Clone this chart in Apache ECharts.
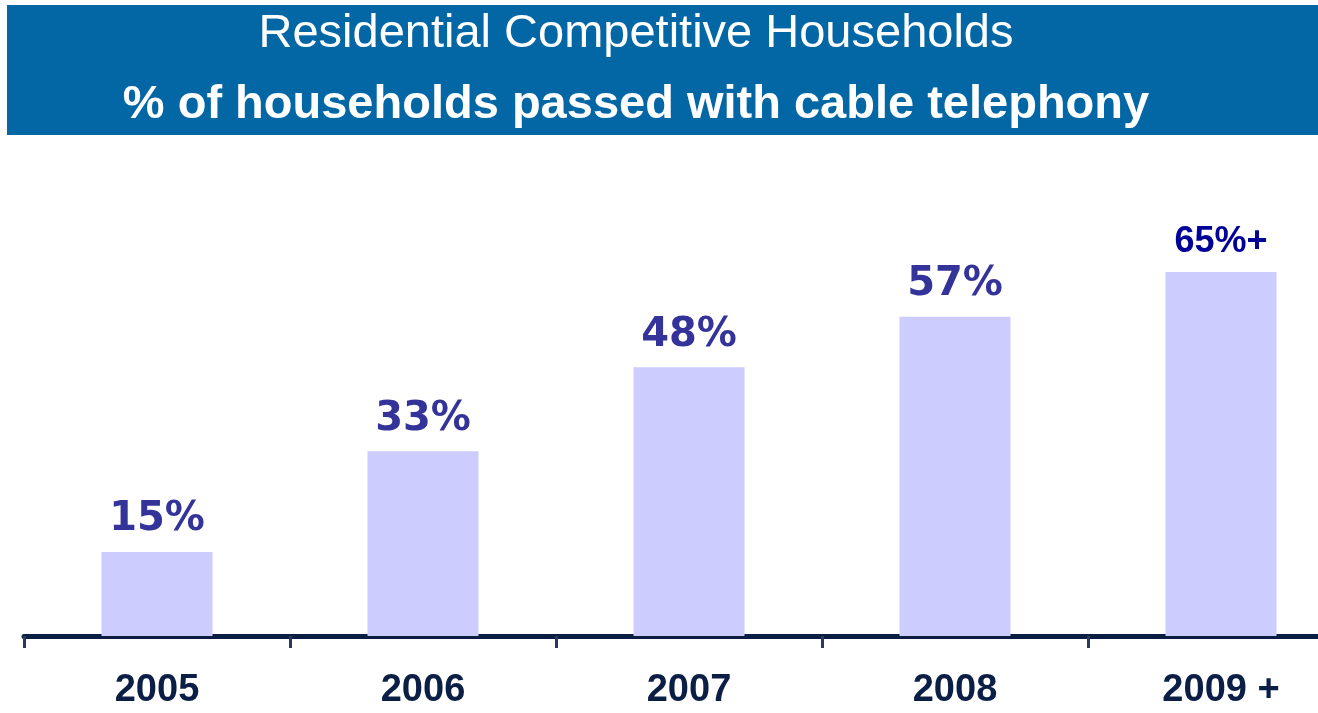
<!DOCTYPE html>
<html>
<head>
<meta charset="utf-8">
<title>Residential Competitive Households</title>
<script src="https://cdn.jsdelivr.net/npm/echarts@6/dist/echarts.min.js"></script>
<style>
  html, body { margin: 0; padding: 0; background: #ffffff; }
  #chart { width: 1318px; height: 713px; }
</style>
</head>
<body>
<div id="chart"></div>
<script>
// Share of households passed with cable telephony, by year
const categories = ['2005', '2006', '2007', '2008', '2009 +'];
const values = [15, 33, 48, 57, 65];
const labelSuffix = ['%', '%', '%', '%', '%+'];

const titleLine1 = 'Residential Competitive Households';
const titleLine2 = '% of households passed with cable telephony';

const chart = echarts.init(document.getElementById('chart'));

const pctLabel = {
  fontFamily: '"DejaVu Sans", Verdana, sans-serif',
  fontWeight: 'bold',
  fontSize: 40,
  color: '#333399'
};
const lastLabel = {
  fontFamily: '"Liberation Sans", Arial, sans-serif',
  fontWeight: 'bold',
  fontSize: 36,
  color: '#000099'
};

const seriesData = values.map((v, i) => ({
  value: v,
  label: Object.assign({}, i === values.length - 1 ? lastLabel : pctLabel, {
    formatter: () => v + labelSuffix[i]
  })
}));

chart.setOption({
  animation: false,
  graphic: [
    {
      type: 'rect',
      shape: { x: 7, y: 5, width: 1311, height: 130 },
      style: { fill: '#0467A5' },
      silent: true
    },
    {
      type: 'text',
      x: 636, y: 34,
      style: {
        text: titleLine1,
        fill: '#ffffff',
        font: '47px "Liberation Sans", Arial, sans-serif',
        textAlign: 'center',
        textVerticalAlign: 'middle'
      }
    },
    {
      type: 'text',
      x: 636, y: 105,
      style: {
        text: titleLine2,
        fill: '#ffffff',
        font: 'bold 47px "Liberation Sans", Arial, sans-serif',
        textAlign: 'center',
        textVerticalAlign: 'middle'
      }
    }
  ],
  // The last category runs past the right edge of the canvas
  grid: {
    left: 24,
    width: 1330,
    top: 188,
    bottom: 77,
    containLabel: false,
    outerBoundsMode: 'none'
  },
  xAxis: {
    type: 'category',
    data: categories,
    boundaryGap: true,
    axisLine: { lineStyle: { color: '#0A1E44', width: 5 } },
    axisTick: { show: true, length: 12, lineStyle: { color: '#2A3A5C', width: 3 } },
    axisLabel: {
      margin: 36,
      color: '#0B1E45',
      fontFamily: '"Liberation Sans", Arial, sans-serif',
      fontWeight: 'bold',
      fontSize: 38
    }
  },
  yAxis: {
    type: 'value',
    min: 0,
    max: 80,
    show: false,
    splitLine: { show: false }
  },
  series: [{
    type: 'bar',
    data: seriesData,
    barWidth: 111,
    itemStyle: { color: '#CCCCFF' },
    label: { show: true, position: 'top', distance: 12 }
  }]
});
</script>
</body>
</html>
